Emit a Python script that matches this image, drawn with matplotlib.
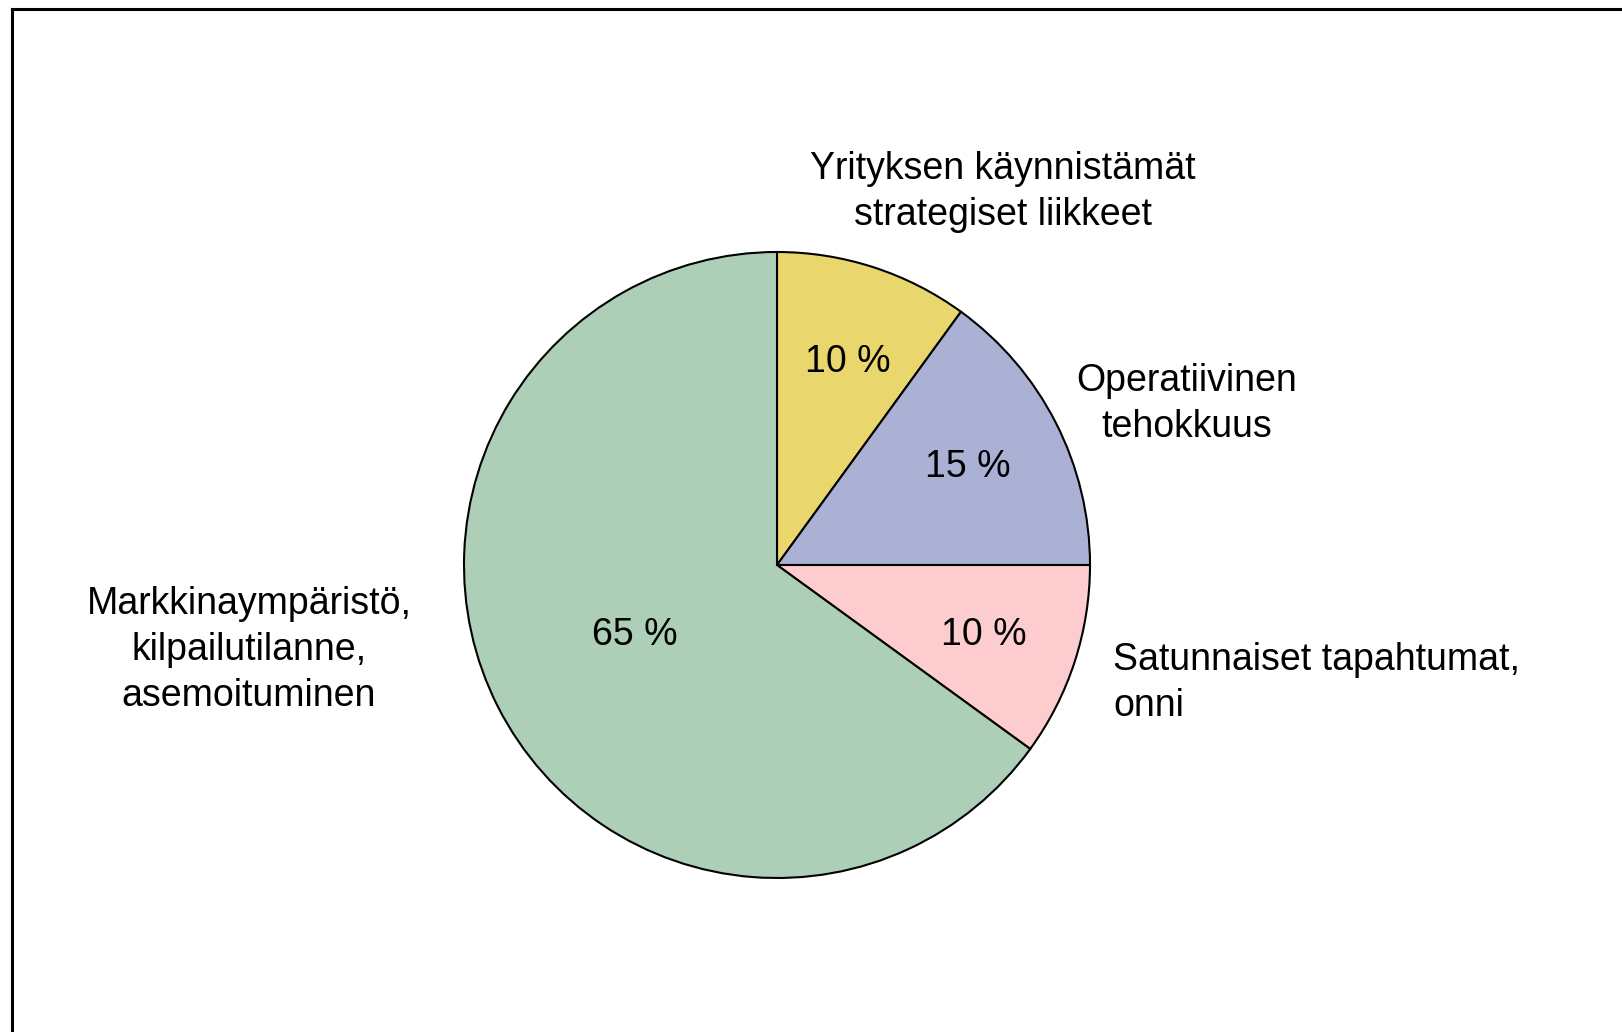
import matplotlib
matplotlib.use("Agg")
import matplotlib.pyplot as plt
from matplotlib.lines import Line2D

labels = ["Yrityksen käynnistämät\nstrategiset liikkeet",
          "Operatiivinen\ntehokkuus",
          "Satunnaiset tapahtumat,\nonni",
          "Markkinaympäristö,\nkilpailutilanne,\nasemoituminen"]
values = [10, 15, 10, 65]
pct_labels = ["10 %", "15 %", "10 %", "65 %"]
colors = ["#E9D66C", "#ABB1D5", "#FDCCCE", "#ADCFB7"]

W, H = 1622, 1032
plt.rcParams['font.family'] = ['Liberation Sans', 'DejaVu Sans']
fig = plt.figure(figsize=(W / 100, H / 100), dpi=100)
ax = fig.add_axes([0, 0, 1, 1])

cx, cy, r = 777, H - 565, 313
wedges, _ = ax.pie(values, colors=colors, startangle=90, counterclock=False,
                   center=(cx, cy), radius=r, frame=True,
                   wedgeprops=dict(edgecolor='black', linewidth=1.5))
ax.set_xlim(0, W)
ax.set_ylim(0, H)
ax.set_aspect('equal')
ax.axis('off')

fs = 27
# percentage labels (pixel positions from top-left)
pct_pos = [(848, 362), (968, 467), (984, 635), (635, 635)]
for (x, y), t in zip(pct_pos, pct_labels):
    ax.text(x, H - y, t, fontsize=fs, ha='center', va='center')

# category labels
lab_specs = [((1003, 192), 'center'),
             ((1187, 404), 'center'),
             ((1113, 683), 'left'),
             ((249, 650), 'center')]
for ((x, y), ha), t in zip(lab_specs, labels):
    ax.text(x, H - y, t, fontsize=fs, ha=ha, va='center',
            multialignment='center' if ha == 'center' else 'left',
            linespacing=1.37)

# outer frame (top and left edges visible)
lw = 2.2
fig.add_artist(Line2D([12 / W, 1.0], [1 - 9 / H, 1 - 9 / H], color='black', linewidth=lw, transform=fig.transFigure))
fig.add_artist(Line2D([12 / W, 12 / W], [0, 1 - 9 / H], color='black', linewidth=lw, transform=fig.transFigure))

fig.savefig("out.png", dpi=100, facecolor='white')
